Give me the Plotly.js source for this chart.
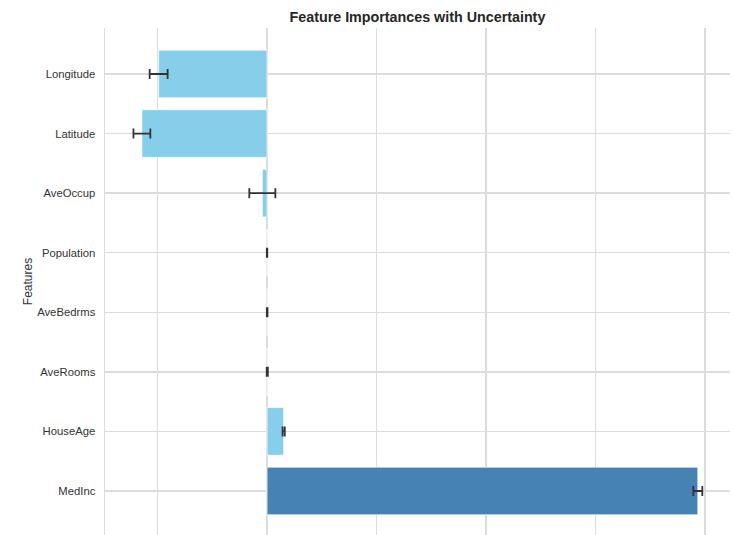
<!DOCTYPE html>
<html>
<head>
<meta charset="utf-8">
<script src="https://cdn.plot.ly/plotly-3.0.1.min.js"></script>
<style>html,body{margin:0;padding:0;overflow:hidden;background:#fff}#chart{width:733px;height:535px}</style>
</head>
<body>
<div id="chart"></div>
<script>
const features = ["MedInc", "HouseAge", "AveRooms", "AveBedrms", "Population", "AveOccup", "Latitude", "Longitude"];
const importances = [0.3934, 0.0152, 0.0002, 0.0001, 0.0000, -0.0043, -0.1143, -0.0990];
const uncertainty = [0.0041, 0.0010, 0.0005, 0.0003, 0.0002, 0.0119, 0.0077, 0.0082];
const barColors = ["#4682B4", "#87CEEB", "#87CEEB", "#87CEEB", "#87CEEB", "#87CEEB", "#87CEEB", "#87CEEB"];

const trace = {
  type: "bar",
  orientation: "h",
  y: features,
  x: importances,
  width: 0.8,
  marker: {color: barColors, line: {color: "rgba(255,255,255,0.7)", width: 1}},
  error_x: {type: "data", array: uncertainty, visible: true, color: "#333333", thickness: 1.8, width: 5},
  hoverinfo: "x+y"
};

const layout = {
  width: 733, height: 535,
  margin: {l: 105, r: 3, t: 28, b: 0, pad: 0},
  paper_bgcolor: "#ffffff", plot_bgcolor: "#ffffff",
  font: {family: "Liberation Sans, Arial, sans-serif", color: "#333333", size: 11},
  title: {text: "<b>Feature Importances with Uncertainty</b>", x: 0.5695, xanchor: "center", y: 0.968, yanchor: "middle", font: {size: 14.3, color: "#262626"}},
  showlegend: false,
  bargap: 0.2,
  xaxis: {
    range: [-0.148, 0.4228],
    tick0: 0, dtick: 0.1,
    showgrid: true, gridcolor: "#dcdcdc", gridwidth: 1.4,
    zeroline: false, showticklabels: false, ticks: "", showline: false
  },
  yaxis: {
    type: "category",
    range: [-0.739, 7.772],
    showgrid: true, gridcolor: "#dcdcdc", gridwidth: 1.4,
    zeroline: false, ticks: "", ticklabelstandoff: 6,
    showline: true, linecolor: "#dcdcdc", linewidth: 1.4,
    tickfont: {size: 11.3, color: "#333333"},
    title: {text: "Features", font: {size: 12, color: "#333333"}, standoff: 2}
  }
};

Plotly.newPlot("chart", [trace], layout, {displayModeBar: false, staticPlot: true});
</script>
</body>
</html>
